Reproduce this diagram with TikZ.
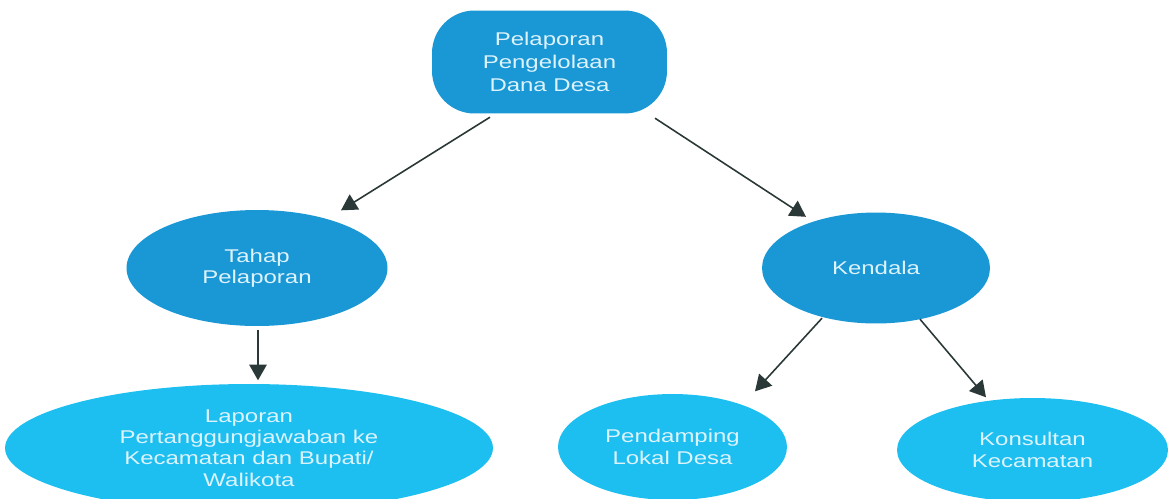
\documentclass[tikz,border=0pt]{standalone}
\usepackage{fontspec}
\setmainfont{Liberation Sans}[FakeStretch=1.3]
\usetikzlibrary{shapes.geometric,arrows.meta,calc}

\definecolor{darkblue}{HTML}{1A97D5}
\definecolor{lightblue}{HTML}{1DBFF1}
\definecolor{textblue}{HTML}{DDF3FC}
\definecolor{arrowgray}{HTML}{2B3838}

\begin{document}
\begin{tikzpicture}[x=0.02cm,y=-0.02cm,thick,
  main node/.style={fill=darkblue,draw=none,text=textblue,align=center,inner sep=0pt,font=\fontsize{10.5}{12.2}\selectfont},
  top node/.style={main node,rectangle,rounded corners=0.85cm,minimum width=4.7cm,minimum height=2.06cm,font=\fontsize{10.5}{13}\selectfont},
  mid node/.style={main node,ellipse},
  leaf node/.style={main node,ellipse,fill=lightblue},
  link/.style={draw=arrowgray,line width=0.9pt,-{Triangle[length=9pt,width=10pt]}}]

\useasboundingbox (0,0) rectangle (1173,498);

% Nodes
\node[top node] (laporan pengelolaan) at (549.5,62) {Pelaporan\\Pengelolaan\\Dana Desa};
\node[mid node,minimum width=5.22cm,minimum height=2.32cm] (tahap) at (257,268) {Tahap\\Pelaporan};
\node[mid node,minimum width=4.56cm,minimum height=2.22cm] (kendala) at (876,268) {Kendala};
\node[leaf node,minimum width=9.76cm,minimum height=2.56cm] (laporan) at (249,448) {Laporan\\Pertanggungjawaban ke\\Kecamatan dan Bupati/\\Walikota};
\node[leaf node,minimum width=4.58cm,minimum height=2.12cm] (pendamping) at (672.5,447) {Pendamping\\Lokal Desa};
\node[leaf node,minimum width=5.42cm,minimum height=2.08cm] (konsultan) at (1032.5,450) {Konsultan\\Kecamatan};

% Arrows
\draw[link] ($(laporan pengelolaan.south)+(-59.5,3)$) -- ($(tahap.north)+(84,1)$);
\draw[link] ($(laporan pengelolaan.south)+(105.5,4)$) -- ($(kendala.north)+(-70,5)$);
\draw[link] ($(tahap.south)+(1,3)$) -- ($(laporan.north)+(9,-3)$);
\draw[link] ($(kendala.south)+(-54,-6)$) -- ($(pendamping.north)+(82.5,-2)$);
\draw[link] ($(kendala.south)+(44,-5)$) -- ($(konsultan.north)+(-46.5,0)$);

\end{tikzpicture}
\end{document}
